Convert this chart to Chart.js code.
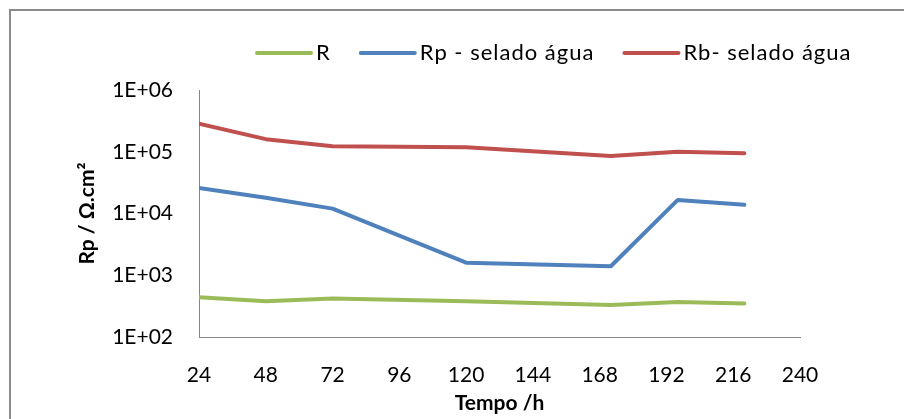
<!DOCTYPE html>
<html>
<head>
<meta charset="utf-8">
<script src="https://cdn.jsdelivr.net/npm/chart.js@4"></script>
<style>
  html, body { margin: 0; padding: 0; background: #fff; overflow: hidden; }
  #wrap { width: 904px; height: 419px; }
  canvas { display: block; }
</style>
</head>
<body>
<div id="wrap"><canvas id="rpChart"></canvas></div>
<script>
// times (h) and resistances (Ohm.cm2)
const tempo = [24, 48, 72, 120, 172, 196, 220];
const rValues = [440, 380, 420, 380, 330, 370, 350];
const rpValues = [26000, 18000, 12000, 1600, 1400, 16500, 13800];
const rbValues = [285000, 160000, 123000, 118000, 85000, 100000, 95000];
const yTicks = [100, 1000, 10000, 100000, 1000000];
const seriesNames = ['R', 'Rp - selado água', 'Rb- selado água'];
const seriesColors = ['#9BBB59', '#4F81BD', '#C0504D'];

const FONT = 'Lato, "Open Sans", sans-serif';

function points(vals) {
    return tempo.map((t, i) => ({ x: t, y: vals[i] }));
}

// outer frame (only top/left visible) + legend drawn by hand
const framePlugin = {
    id: 'frameAndLegend',
    afterDraw(chart) {
        const ctx = chart.ctx;
        ctx.save();
        ctx.strokeStyle = '#8a8a8a';
        ctx.lineWidth = 2;
        ctx.beginPath();
        ctx.moveTo(10, chart.height);
        ctx.lineTo(10, 10);
        ctx.lineTo(chart.width, 10);
        ctx.stroke();

        ctx.font = '22px ' + FONT;
        ctx.letterSpacing = '1px';
        ctx.textBaseline = 'middle';
        ctx.fillStyle = '#000';
        let x = 257;
        const y = 53;
        chart.data.datasets.forEach((ds) => {
            ctx.strokeStyle = ds.borderColor;
            ctx.lineWidth = 4;
            ctx.lineCap = 'round';
            ctx.beginPath();
            ctx.moveTo(x, y);
            ctx.lineTo(x + 54, y);
            ctx.stroke();
            x += 59;
            ctx.fillText(ds.label, x, y);
            x += ctx.measureText(ds.label).width + 30;
        });
        ctx.restore();
    }
};

const ctx = document.getElementById('rpChart').getContext('2d');
const rpChart = new Chart(ctx, {
    type: 'scatter',
    data: {
        datasets: [
            { label: seriesNames[0], data: points(rValues), borderColor: seriesColors[0], backgroundColor: seriesColors[0] },
            { label: seriesNames[1], data: points(rpValues), borderColor: seriesColors[1], backgroundColor: seriesColors[1] },
            { label: seriesNames[2], data: points(rbValues), borderColor: seriesColors[2], backgroundColor: seriesColors[2] }
        ].map(d => Object.assign(d, {
            showLine: true,
            borderWidth: 4,
            pointRadius: 0,
            tension: 0,
            borderCapStyle: 'round',
            borderJoinStyle: 'round'
        }))
    },
    options: {
        responsive: true,
        maintainAspectRatio: false,
        animation: false,
        layout: { padding: { top: 90, right: 104, left: 0, bottom: 0 } },
        plugins: {
            legend: { display: false },
            tooltip: { enabled: false }
        },
        scales: {
            x: {
                type: 'linear',
                min: 24,
                max: 240,
                grid: { display: false, drawTicks: false },
                border: { display: true, color: '#868686', width: 1 },
                ticks: {
                    stepSize: 24,
                    padding: 26,
                    color: '#000',
                    maxRotation: 0,
                    font: { family: FONT, size: 21 }
                },
                title: {
                    display: true,
                    text: 'Tempo /h',
                    color: '#000',
                    padding: { top: 0, bottom: 3 },
                    font: { family: FONT, size: 21, weight: 'bold' }
                },
                afterFit(scale) { scale.height = 82; }
            },
            y: {
                type: 'logarithmic',
                min: 100,
                max: 1000000,
                grid: { display: false, drawTicks: false },
                border: { display: true, color: '#868686', width: 1 },
                afterBuildTicks(scale) {
                    scale.ticks = yTicks.map(v => ({ value: v }));
                },
                ticks: {
                    padding: 26,
                    color: '#000',
                    font: { family: FONT, size: 21 },
                    callback: (v) => '1E+0' + Math.round(Math.log10(v))
                },
                title: {
                    display: true,
                    text: 'Rp / Ω.cm²',
                    color: '#000',
                    padding: 75,
                    font: { family: FONT, size: 21, weight: 'bold' }
                },
                afterFit(scale) { scale.width = 199; }
            }
        }
    },
    plugins: [framePlugin]
});
</script>
</body>
</html>
